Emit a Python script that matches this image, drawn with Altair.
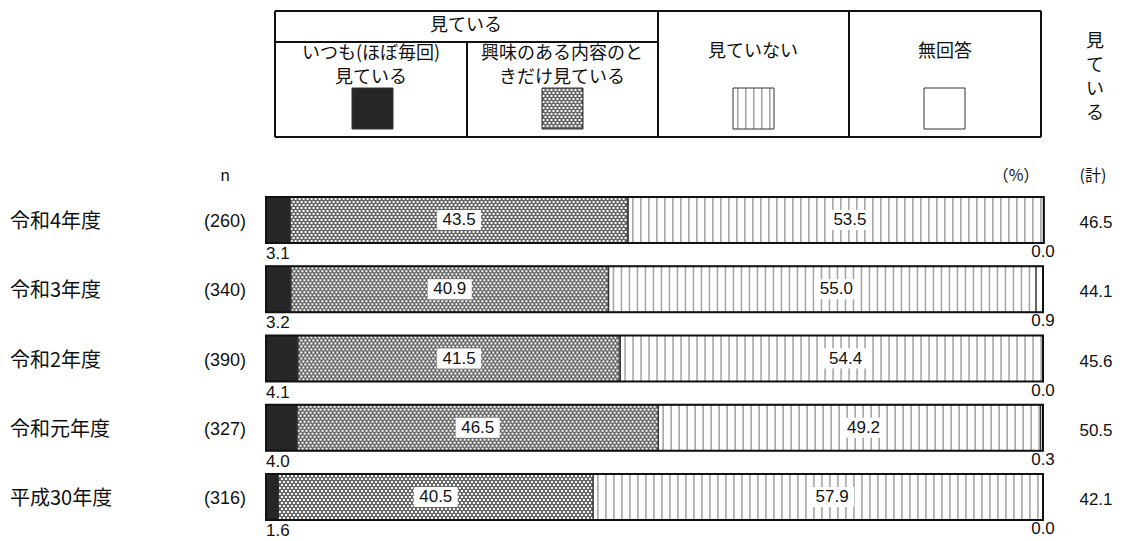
import altair as alt
import pandas as pd
import numpy as np

# ---------------- data ----------------
years = ["令和4年度", "令和3年度", "令和2年度", "令和元年度", "平成30年度"]
n_values = [260, 340, 390, 327, 316]
always = [3.1, 3.2, 4.1, 4.0, 1.6]
interest = [43.5, 40.9, 41.5, 46.5, 40.5]
not_watch = [53.5, 55.0, 54.4, 49.2, 57.9]
no_answer = [0.0, 0.9, 0.0, 0.3, 0.0]
watching_total = [46.5, 44.1, 45.6, 50.5, 42.1]
categories = ["いつも(ほぼ毎回)見ている", "興味のある内容のときだけ見ている", "見ていない", "無回答"]

# ---------------- layout / style ----------------
W, H = 1106, 533
OFF = 8  # page margin
X0, X1 = 266 - OFF, 1043 - OFF
Y0, Y1 = 197 - OFF, 520 - OFF
PPU = (X1 - X0) / 100.0
JP = "Noto Sans CJK JP"
NUM = "Liberation Sans"
cat_colors = ["#262626", "#666666", "#ffffff", "#ffffff"]

xs = alt.Scale(domain=[0, 100], range=[X0, X1])
ys = alt.Scale(type="band", domain=years, range=[Y0, Y1], paddingInner=0.336, paddingOuter=0)


def XQ(f):
    return alt.X(f, type="quantitative", scale=xs, axis=None)


YB = alt.Y("year:N", scale=ys, axis=None)


def fmt(v):
    return f"{v:.1f}"


# segments
seg_rows = []
for i, yr in enumerate(years):
    vals = [always[i], interest[i], not_watch[i], no_answer[i]]
    s = 0.0
    for c, v in zip(categories, vals):
        seg_rows.append(dict(year=yr, cat=c, start=s, end=s + v, value=v))
        s += v
seg = pd.DataFrame(seg_rows)

outline = pd.DataFrame({
    "year": years,
    "start": [0.0] * len(years),
    "end": [a + b + c + d for a, b, c, d in zip(always, interest, not_watch, no_answer)],
})

# stripe texture for 見ていない
stripe_rows = []
for i, yr in enumerate(years):
    s = always[i] + interest[i]
    e = s + not_watch[i]
    for p in np.arange(s + 4 / PPU, e - 1 / PPU, 8 / PPU):
        stripe_rows.append(dict(year=yr, a=p, b=p + 1.6 / PPU))
stripes = pd.DataFrame(stripe_rows)

# dot texture for 興味のある内容のときだけ見ている (offsets from band top)
dot_rows = []
for i, yr in enumerate(years):
    s = always[i] * PPU
    e = (always[i] + interest[i]) * PPU
    for r, dy in enumerate(np.arange(2, 45, 3)):
        off = (r % 2) * 2
        for px in np.arange(s + 1.5 + off, e - 1, 4):
            dot_rows.append(dict(year=yr, x=px / PPU, dy=float(dy)))
dots = pd.DataFrame(dot_rows)

# labels
lab_int = pd.DataFrame({
    "year": years,
    "x": [a + b / 2 for a, b in zip(always, interest)],
    "t": [fmt(v) for v in interest],
})
lab_not = pd.DataFrame({
    "year": years,
    "x": [a + b + c / 2 + 14 / PPU for a, b, c in zip(always, interest, not_watch)],
    "t": [fmt(v) for v in not_watch],
})
lab_in = pd.concat([lab_int, lab_not], ignore_index=True)
lab_always = pd.DataFrame({"year": years, "x": [0.0] * 5, "t": [fmt(v) for v in always]})
lab_na = pd.DataFrame({"year": years, "x": [100.0] * 5, "t": [fmt(v) for v in no_answer]})
rowlab = pd.DataFrame({
    "year": years,
    "n": [f"({v})" for v in n_values],
    "tot": [fmt(v) for v in watching_total],
})

layers = []
layers.append(
    alt.Chart(seg).mark_bar(strokeWidth=0).encode(
        x=XQ("start"), x2="end", y=YB,
        fill=alt.Fill("cat:N", scale=alt.Scale(domain=categories, range=cat_colors), legend=None),
    )
)
layers.append(
    alt.Chart(stripes).mark_bar(color="#a6a6a6", strokeWidth=0).encode(x=XQ("a"), x2="b", y=YB)
)
layers.append(
    alt.Chart(dots).mark_square(size=4, color="white", opacity=1, strokeWidth=0).encode(
        x=XQ("x"), y=YB, yOffset=alt.YOffset("dy:Q", scale=None)
    )
)
layers.append(
    alt.Chart(seg).mark_bar(fillOpacity=0, stroke="#333333", strokeWidth=1).encode(
        x=XQ("start"), x2="end", y=YB
    )
)
layers.append(
    alt.Chart(outline).mark_bar(fillOpacity=0, stroke="#111111", strokeWidth=2).encode(
        x=XQ("start"), x2="end", y=YB
    )
)
box_path = "M-1,-0.4545L1,-0.4545L1,0.4545L-1,0.4545Z"
layers.append(
    alt.Chart(lab_in).mark_point(shape=box_path, filled=True, fill="white", size=44 * 44,
                                 opacity=1, strokeWidth=0).encode(x=XQ("x"), y=YB)
)
layers.append(
    alt.Chart(lab_in).mark_text(font=NUM, fontSize=17, color="#111111", baseline="middle").encode(
        x=XQ("x"), y=YB, text="t:N"
    )
)
layers.append(
    alt.Chart(lab_always).mark_text(font=NUM, fontSize=17, color="#111111", align="left",
                                    baseline="middle", dy=34).encode(x=XQ("x"), y=YB, text="t:N")
)
layers.append(
    alt.Chart(lab_na).mark_text(font=NUM, fontSize=17, color="#111111", align="center",
                                baseline="middle", dy=32).encode(x=XQ("x"), y=YB, text="t:N")
)
layers.append(
    alt.Chart(rowlab).mark_text(font=JP, fontSize=20, color="#111111", align="left",
                                baseline="middle", dy=2).encode(x=alt.value(10 - OFF), y=YB, text="year:N")
)
layers.append(
    alt.Chart(rowlab).mark_text(font=NUM, fontSize=18, color="#111111", align="center",
                                baseline="middle", dy=2).encode(x=alt.value(225 - OFF), y=YB, text="n:N")
)
layers.append(
    alt.Chart(rowlab).mark_text(font=NUM, fontSize=17, color="#111111", align="center",
                                baseline="middle", dy=3).encode(x=alt.value(1096 - OFF), y=YB, text="tot:N")
)

# ---------------- legend table (page pixel layout) ----------------
L, R, T, B, HD, C1, C2, C3 = 275, 1041, 11, 137, 42, 467, 658, 849
lines = pd.DataFrame([
    (L, T, R, T), (L, B, R, B), (L, T, L, B), (R, T, R, B),
    (L, HD, C2, HD), (C1, HD, C1, B), (C2, T, C2, B), (C3, T, C3, B),
], columns=["x", "y", "x2", "y2"]) - OFF
PX = lambda f: alt.X(f, type="quantitative", scale=None)
PY = lambda f: alt.Y(f, type="quantitative", scale=None)
layers.append(
    alt.Chart(lines).mark_rule(color="#111111", strokeWidth=2).encode(
        x=PX("x"), y=PY("y"), x2="x2", y2="y2"
    )
)
SW_T, SW_B = 88, 129
sw_left = [352, 542, 733, 924]
swatch = pd.DataFrame({
    "x": [v - OFF for v in sw_left],
    "x2": [v + 41 - OFF for v in sw_left],
    "y": [SW_T - OFF] * 4,
    "y2": [SW_B - OFF] * 4,
    "cat": categories,
})
layers.append(
    alt.Chart(swatch).mark_rect(strokeWidth=0).encode(
        x=PX("x"), x2="x2", y=PY("y"), y2="y2",
        fill=alt.Fill("cat:N", scale=alt.Scale(domain=categories, range=cat_colors), legend=None),
    )
)
sw_stripes = pd.DataFrame({"x": [p - OFF for p in np.arange(sw_left[2] + 4, sw_left[2] + 40, 8)]})
sw_stripes["x2"] = sw_stripes["x"] + 1.6
sw_stripes["y"] = SW_T - OFF
sw_stripes["y2"] = SW_B - OFF
layers.append(
    alt.Chart(sw_stripes).mark_rect(color="#a6a6a6", strokeWidth=0).encode(
        x=PX("x"), x2="x2", y=PY("y"), y2="y2"
    )
)
sw_dot_rows = []
for r, yy in enumerate(np.arange(SW_T + 2, SW_B - 1, 3)):
    off = (r % 2) * 2
    for xx in np.arange(sw_left[1] + 1.5 + off, sw_left[1] + 40, 4):
        sw_dot_rows.append(dict(x=xx - OFF, y=yy - OFF))
sw_dots = pd.DataFrame(sw_dot_rows)
layers.append(
    alt.Chart(sw_dots).mark_square(size=4, color="white", opacity=1, strokeWidth=0).encode(
        x=PX("x"), y=PY("y")
    )
)
layers.append(
    alt.Chart(swatch).mark_rect(fillOpacity=0, stroke="#333333", strokeWidth=1).encode(
        x=PX("x"), x2="x2", y=PY("y"), y2="y2"
    )
)

leg_text = pd.DataFrame([
    ("見ている", 466, 26),
    ("いつも(ほぼ毎回)", 371, 54),
    ("見ている", 371, 78),
    ("興味のある内容のと", 562, 54),
    ("きだけ見ている", 562, 78),
    ("見ていない", 753, 52),
    ("無回答", 945, 52),
], columns=["t", "x", "y"])
leg_text[["x", "y"]] -= OFF
layers.append(
    alt.Chart(leg_text).mark_text(font=JP, fontSize=18, color="#111111", baseline="middle").encode(
        x=PX("x"), y=PY("y"), text="t:N"
    )
)
vert = pd.DataFrame({"t": ["見\nて\nい\nる"], "x": [1095 - OFF], "y": [42 - OFF]})
layers.append(
    alt.Chart(vert).mark_text(font=JP, fontSize=18, color="#111111", baseline="middle",
                              lineBreak="\n", lineHeight=24).encode(x=PX("x"), y=PY("y"), text="t:N")
)
heads = pd.DataFrame([
    ("n", 225, 176),
    ("（%）", 1016, 176),
    ("(計)", 1093, 176),
], columns=["t", "x", "y"])
heads[["x", "y"]] -= OFF
layers.append(
    alt.Chart(heads).mark_text(font=JP, fontSize=16, color="#111111", baseline="middle").encode(
        x=PX("x"), y=PY("y"), text="t:N"
    )
)

chart = (
    alt.layer(*layers)
    .resolve_scale(x="independent", y="independent", fill="independent")
    .properties(width=W, height=H, padding=0, autosize=alt.AutoSizeParams(type="none"))
    .configure_view(stroke=None)
)
chart.save("out.html", embed_options={"renderer": "svg", "actions": False})
